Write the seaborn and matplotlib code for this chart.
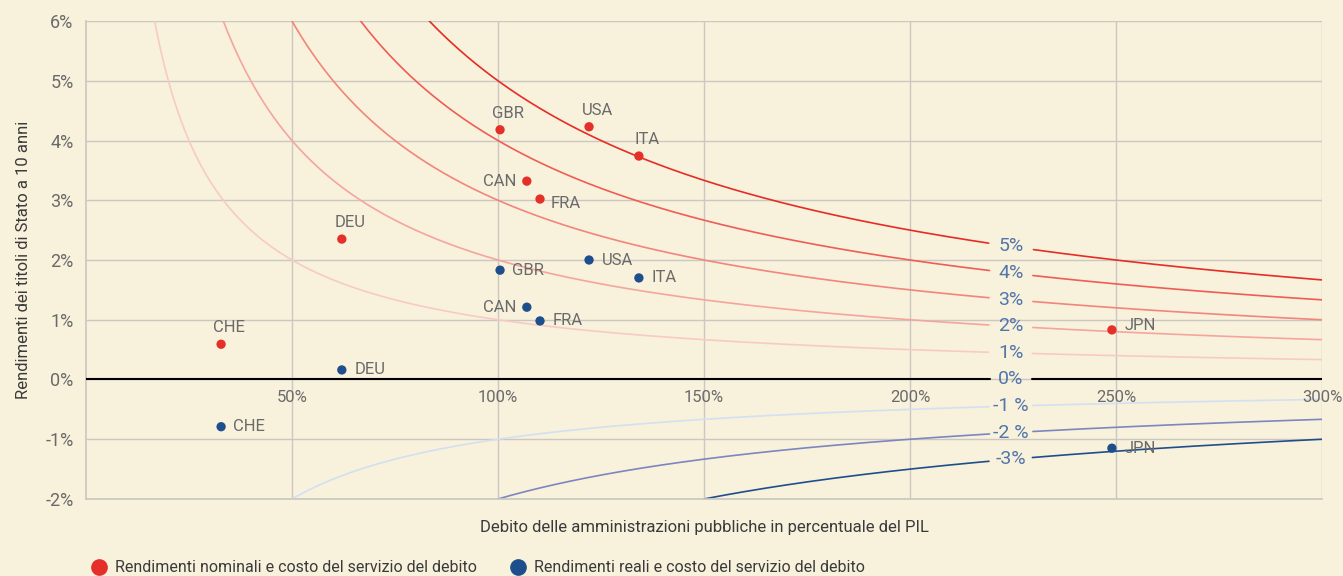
import numpy as np
import pandas as pd
import seaborn as sns
import matplotlib.pyplot as plt
from matplotlib.lines import Line2D

# country data: debt (% of GDP), nominal and real 10y yields (%)
countries = ["GBR", "USA", "ITA", "CAN", "FRA", "DEU", "CHE", "JPN"]
debt = [100.5, 122.1, 134.2, 107.0, 110.2, 62.1, 32.8, 249.0]
nominal_yield = [4.18, 4.23, 3.74, 3.32, 3.02, 2.35, 0.59, 0.83]
real_yield = [1.83, 2.00, 1.70, 1.21, 0.98, 0.16, -0.79, -1.15]

# iso-cost curves: debt service cost (% of GDP)
cost_levels = [5, 4, 3, 2, 1, -1, -2, -3]
cost_texts = ["5%", "4%", "3%", "2%", "1%", "-1 %", "-2 %", "-3%"]
cost_colors = ["#e52d25", "#ef5d54", "#f2857c", "#f5a59e", "#f8cac6",
               "#d3e0f2", "#7d86bf", "#1e4f8a"]

x_ticks = [50, 100, 150, 200, 250, 300]
y_ticks = [-2, -1, 0, 1, 2, 3, 4, 5, 6]

BG = "#f8f1dc"
RED = "#e5302a"
BLUE = "#1f4e8c"
GRID = "#cbc8c2"
TXT = "#6a6a6a"
LBL = "#5276aa"
GAP = (219.5, 229.5)

sns.set_theme(style="white")
plt.rcParams["font.family"] = ["Roboto", "DejaVu Sans"]
plt.rcParams["axes.unicode_minus"] = False

fig = plt.figure(figsize=(13.43, 5.76), dpi=100, facecolor=BG)
ax = fig.add_axes([0.064, 0.1337, 0.9204, 0.8298])
ax.set_facecolor(BG)

# build curve table, split in two segments around the label gap
rows = []
for c in cost_levels:
    if c > 0:
        start = c * 100 / 6
    else:
        start = abs(c) * 100 / 2
    xs = np.linspace(start, 300, 400)
    for seg, mask in enumerate([xs <= GAP[0], xs >= GAP[1]]):
        for xv in xs[mask]:
            rows.append({"level": c, "seg": seg, "debt": xv, "yield": c * 100 / xv})
curves = pd.DataFrame(rows)

sns.lineplot(data=curves, x="debt", y="yield", hue="level", units="seg",
             estimator=None, palette=dict(zip(cost_levels, cost_colors)),
             linewidth=1.2, legend=False, ax=ax, sort=False)

# zero line with gap
ax.plot([0, GAP[0]], [0, 0], color="black", lw=1.5, zorder=3)
ax.plot([GAP[1], 300], [0, 0], color="black", lw=1.5, zorder=3)

# curve labels in the gap
for c, txt in zip(cost_levels + [0], cost_texts + ["0%"]):
    yv = 0 if c == 0 else c * 100 / 224.5
    ax.text(224.5, yv, txt, ha="center", va="center", fontsize=14, color=LBL)

pts = pd.DataFrame({"country": countries * 2, "debt": debt * 2,
                    "yield": nominal_yield + real_yield,
                    "kind": ["nom"] * len(countries) + ["real"] * len(countries)})
sns.scatterplot(data=pts, x="debt", y="yield", hue="kind",
                palette={"nom": RED, "real": BLUE}, s=45, linewidth=0,
                legend=False, ax=ax, zorder=5)

# point labels
nom_pos = {"GBR": "above", "USA": "above", "ITA": "above", "CAN": "left",
           "FRA": "belowright", "DEU": "above", "CHE": "above", "JPN": "right"}
real_pos = {"CAN": "left"}
for name, xv, yv in zip(countries, debt, nominal_yield):
    pos = nom_pos[name]
    if pos == "above":
        ax.text(xv + 2, yv + 0.15, name, ha="center", va="bottom", fontsize=12, color=TXT)
    elif pos == "left":
        ax.text(xv - 2.5, yv, name, ha="right", va="center", fontsize=12, color=TXT)
    elif pos == "belowright":
        ax.text(xv + 2.5, yv - 0.08, name, ha="left", va="center", fontsize=12, color=TXT)
    else:
        ax.text(xv + 3, yv + 0.08, name, ha="left", va="center", fontsize=12, color=TXT)
for name, xv, yv in zip(countries, debt, real_yield):
    if real_pos.get(name) == "left":
        ax.text(xv - 2.5, yv, name, ha="right", va="center", fontsize=12, color=TXT)
    else:
        ax.text(xv + 3, yv, name, ha="left", va="center", fontsize=12, color=TXT)

ax.set_xlim(0, 300)
ax.set_ylim(-2, 6)
ax.set_xticks(x_ticks)
ax.set_yticks(y_ticks)
ax.set_xticklabels([])
ax.set_yticklabels([f"{t}%" for t in y_ticks], fontsize=13, color=TXT)
ax.tick_params(axis="both", length=0, pad=9)
for t in x_ticks:
    ax.text(t, -0.18, f"{t}%", ha="center", va="top", fontsize=12, color=TXT)

ax.grid(True, color=GRID, lw=1)
for s in ax.spines.values():
    s.set_visible(False)
ax.spines["left"].set_visible(True)
ax.spines["left"].set_color(GRID)
ax.spines["bottom"].set_visible(True)
ax.spines["bottom"].set_color(GRID)

ax.set_xlabel("Debito delle amministrazioni pubbliche in percentuale del PIL",
              fontsize=12, color="#3a3a3a", labelpad=6)
ax.set_ylabel("Rendimenti dei titoli di Stato a 10 anni", fontsize=12,
              color="#3a3a3a", labelpad=10)

handles = [Line2D([], [], marker="o", ls="", color=RED, markersize=11),
           Line2D([], [], marker="o", ls="", color=BLUE, markersize=11)]
fig.legend(handles, ["Rendimenti nominali e costo del servizio del debito",
                     "Rendimenti reali e costo del servizio del debito"],
           loc="lower left", bbox_to_anchor=(0.051, -0.024), ncol=2, frameon=False,
           fontsize=11.5, handletextpad=0.0, columnspacing=1.6,
           labelcolor="#3a3a3a")

fig.savefig("out.png", dpi=100, facecolor=BG)
